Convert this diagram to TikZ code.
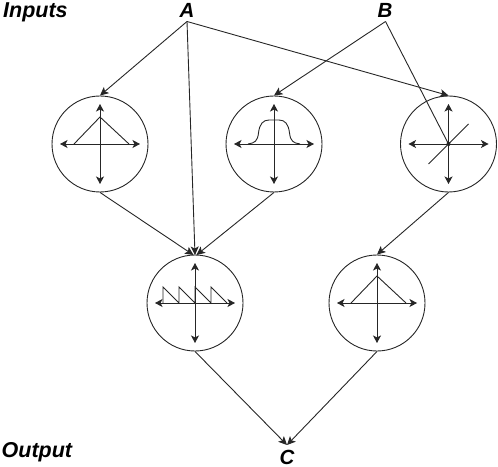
\documentclass[tikz,border=0pt]{standalone}
\usepackage{fontspec}
\setmainfont{Liberation Sans}
\usetikzlibrary{arrows.meta}
\tikzset{
  unit circle/.style={draw,circle,minimum size=96bp,inner sep=0pt,line width=0.9bp,draw=black!85},
  link/.style={-{Stealth[length=8.5bp,width=8bp,inset=2bp]},line width=0.9bp,draw=black!85},
  dotlink/.style={-{Circle[length=4.5bp]},line width=0.9bp,draw=black!85,shorten >=-2bp},
  axis/.style={{Stealth[length=7.5bp,width=8bp,inset=2bp]}-{Stealth[length=7.5bp,width=8bp,inset=2bp]},line width=0.9bp,draw=black!85},
  curve/.style={line width=0.9bp,draw=black!85,line join=miter},
  heading/.style={font=\bfseries\itshape\fontsize{21.5bp}{24bp}\selectfont,inner sep=0pt,anchor=base west},
  letter/.style={font=\bfseries\itshape\fontsize{20.5bp}{22bp}\selectfont,inner sep=0pt,anchor=base}
}
\begin{document}
\begin{tikzpicture}[x=1bp,y=-1bp]
\useasboundingbox (0,0) rectangle (498,467);
\node[heading] (inputs) at (3,17.3) {Inputs};
\node[heading] (output) at (1.5,457) {Output};
\node[letter] (A) at (187,17.3) {A};
\node[letter] (B) at (385,17.3) {B};
\node[letter] (C) at (287,464) {C};
\coordinate (Aout) at (187,21.5);
\coordinate (Bout) at (385.5,21.5);
\coordinate (Cin) at (287,445);
\node[unit circle] (c1) at (100,144) {};
\node[unit circle] (c2) at (274,144) {};
\node[unit circle] (c3) at (448.5,144) {};
\node[unit circle] (c4) at (195,303) {};
\node[unit circle] (c5) at (377,303) {};
\coordinate (c4l) at (193.5,255);
\coordinate (c4r) at (196.5,255);
\coordinate (c4m) at (195,255);
% function plots
\begin{scope}[shift={(100,144)}]
  \draw[axis] (-40,0) -- (40,0);
  \draw[axis] (0,-40) -- (0,40);
  \draw[curve] (-26,0) -- (0,-27) -- (29,0);
\end{scope}
\begin{scope}[shift={(274,144)}]
  \draw[axis] (-40,0) -- (40,0);
  \draw[axis] (0,-40) -- (0,40);
  \draw[curve] (-26,0) .. controls (-19,-1) and (-16.5,-3) .. (-15.5,-11) .. controls (-14.5,-20) and (-11,-24) .. (-5,-24) -- (5,-24) .. controls (11,-24) and (14.5,-20) .. (15.5,-11) .. controls (16.5,-3) and (19,-1) .. (26,0);
\end{scope}
\begin{scope}[shift={(448.5,144)}]
  \draw[axis] (-40,0) -- (40,0);
  \draw[axis] (0,-40) -- (0,40);
  \draw[curve] (-20,20) -- (20,-20);
\end{scope}
\begin{scope}[shift={(195,303)}]
  \draw[axis] (-40,0) -- (40,0);
  \draw[axis] (0,-40) -- (0,40);
  \draw[curve] (-32,0) -- (-32,-16) -- (-16,0) -- (-16,-16) -- (0,0) -- (0,-16) -- (16,0) -- (16,-16) -- (32,0);
\end{scope}
\begin{scope}[shift={(377,303)}]
  \draw[axis] (-40,0) -- (40,0);
  \draw[axis] (0,-40) -- (0,40);
  \draw[curve] (-26,0) -- (0,-27) -- (29,0);
\end{scope}
% connectors
\draw[link] (Aout) -- (c1.north);
\draw[link] (Aout) -- (c4m);
\draw[link] (Aout) -- (c3.north);
\draw[link] (Bout) -- (c2.north);
\draw[dotlink] (Bout) -- (c3.center);
\draw[link] (c1.south) -- (c4l);
\draw[link] (c2.south) -- (c4r);
\draw[link] (c3.south) -- (c5.north);
\draw[link] (c4.south) -- (Cin);
\draw[link] (c5.south) -- (Cin);
\end{tikzpicture}
\end{document}
